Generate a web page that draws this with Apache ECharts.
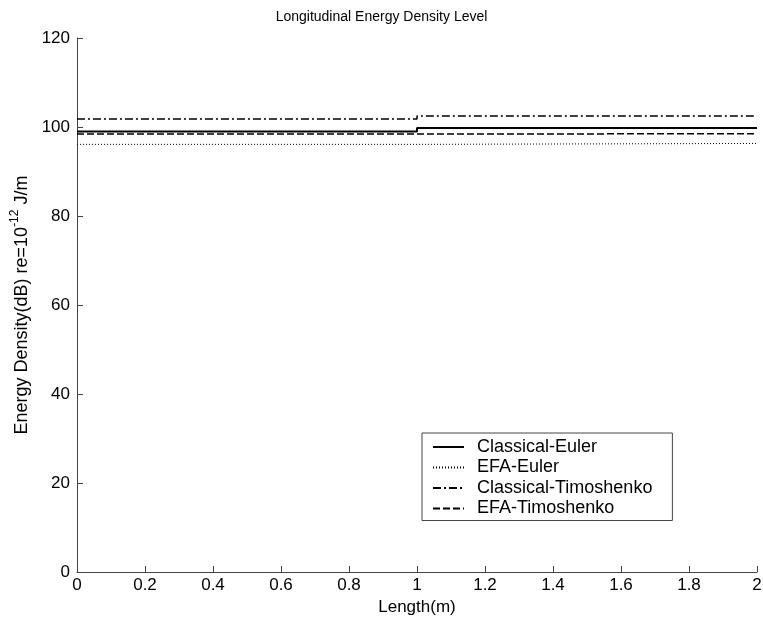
<!DOCTYPE html>
<html>
<head>
<meta charset="utf-8">
<script src="https://cdn.jsdelivr.net/npm/echarts@6/dist/echarts.min.js"></script>
<style>
  html, body { margin: 0; padding: 0; background: #fff; }
  #chart { width: 763px; height: 624px; }
</style>
</head>
<body>
<div id="chart"></div>
<script>
// Positions along the beam (m): two segments joined at 1 m
const lengthPoints = [0, 1, 1, 2];

// Energy density levels (dB re 1e-12 J/m)
const classicalEuler = [99.0, 99.0, 99.8, 99.8];
const efaEuler = [96.1, 96.1, 96.3, 96.3];
const classicalTimoshenko = [101.8, 101.8, 102.5, 102.5];
const efaTimoshenko = [98.4, 98.4, 98.5, 98.5];

const seriesNames = ['Classical-Euler', 'EFA-Euler', 'Classical-Timoshenko', 'EFA-Timoshenko'];

const xTicks = { min: 0, max: 2, interval: 0.2 };
const yTicks = { min: 0, max: 120, interval: 20 };

const FONT = 'Liberation Sans, Arial, sans-serif';

function pairs(values) {
  return lengthPoints.map((x, i) => [x, values[i]]);
}

function lineSeries(name, values, width, dash) {
  return {
    name: name,
    type: 'line',
    data: pairs(values),
    symbol: 'none',
    animation: false,
    lineStyle: { color: '#000', width: width, type: dash },
    itemStyle: { color: '#000' }
  };
}

const chart = echarts.init(document.getElementById('chart'), null, { renderer: 'canvas' });

chart.setOption({
  backgroundColor: '#fff',
  animation: false,
  title: {
    text: 'Longitudinal Energy Density Level',
    left: 'center',
    top: 5,
    textStyle: { fontFamily: FONT, fontSize: 14, fontWeight: 'normal', color: '#000' }
  },
  grid: { left: 77, right: 6, top: 38, bottom: 52, outerBoundsMode: 'none', containLabel: false },
  xAxis: {
    type: 'value',
    min: xTicks.min,
    max: xTicks.max,
    interval: xTicks.interval,
    name: 'Length(m)',
    nameLocation: 'middle',
    nameGap: 27,
    nameTextStyle: { fontFamily: FONT, fontSize: 17, color: '#000' },
    axisLine: { lineStyle: { color: '#444', width: 1 } },
    axisTick: { inside: true, length: 6, lineStyle: { color: '#444' } },
    axisLabel: { fontFamily: FONT, fontSize: 17, color: '#000', margin: 5 },
    splitLine: { show: false }
  },
  yAxis: {
    type: 'value',
    min: yTicks.min,
    max: yTicks.max,
    interval: yTicks.interval,
    name: '{n|Energy Density(dB) re=10}{s|-12}{n| J/m}',
    nameLocation: 'middle',
    nameRotate: 90,
    nameGap: 46,
    nameTextStyle: {
      fontFamily: FONT,
      color: '#000',
      rich: {
        n: { fontFamily: FONT, fontSize: 18, color: '#000', verticalAlign: 'bottom', lineHeight: 22 },
        s: { fontFamily: FONT, fontSize: 12, color: '#000', verticalAlign: 'top', lineHeight: 22 }
      }
    },
    axisLine: { show: true, lineStyle: { color: '#444', width: 1 } },
    axisTick: { show: true, inside: true, length: 6, lineStyle: { color: '#444' } },
    axisLabel: { fontFamily: FONT, fontSize: 17, color: '#000', margin: 7 },
    splitLine: { show: false }
  },
  legend: {
    data: seriesNames,
    orient: 'vertical',
    left: 422,
    top: 433,
    padding: [4, 20, 2, 10],
    itemGap: 0.5,
    itemWidth: 31,
    itemHeight: 20,
    borderColor: '#444',
    borderWidth: 1,
    backgroundColor: '#fff',
    itemStyle: { opacity: 0 },
    textStyle: { fontFamily: FONT, fontSize: 18, lineHeight: 20, color: '#000', padding: [0, 0, 0, 8] }
  },
  series: [
    lineSeries(seriesNames[0], classicalEuler, 2, 'solid'),
    lineSeries(seriesNames[1], efaEuler, 1, [1, 2]),
    lineSeries(seriesNames[2], classicalTimoshenko, 1.5, [8, 3, 2, 3]),
    lineSeries(seriesNames[3], efaTimoshenko, 1.5, [7, 3])
  ]
});
</script>
</body>
</html>
